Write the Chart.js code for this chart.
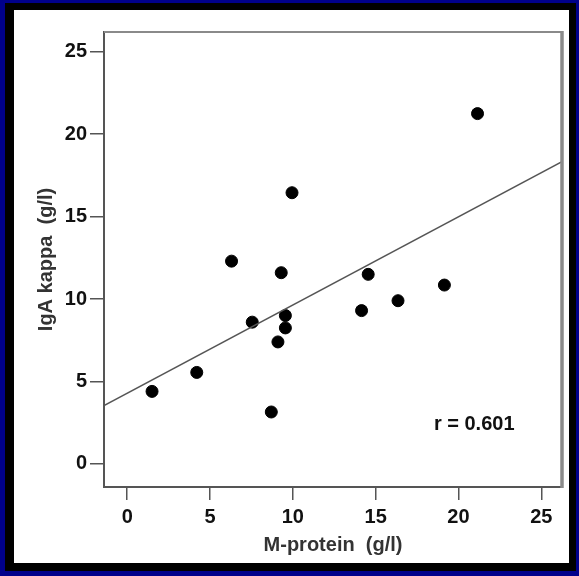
<!DOCTYPE html>
<html>
<head>
<meta charset="utf-8">
<script src="https://cdn.jsdelivr.net/npm/chart.js@4"></script>
<style>
    html, body { margin: 0; padding: 0; }
    body { width: 579px; height: 576px; background: #00008b; position: relative; overflow: hidden; }
    .frame { position: absolute; left: 5px; top: 3px; width: 571px; height: 568px; background: #000; }
    .panel { position: absolute; left: 14px; top: 10px; width: 555px; height: 553px; background: #fff; }
</style>
</head>
<body>
<div class="frame"></div>
<div class="panel"><canvas id="myChart" width="555" height="553"></canvas></div>
<script>
// M-protein (g/l) vs IgA kappa (g/l)
const mProtein = [1.5, 4.2, 6.3, 7.55, 8.7, 9.1, 9.3, 9.55, 9.55, 9.95, 14.15, 14.55, 16.35, 19.15, 21.15];
const igaKappa = [4.4, 5.55, 12.3, 8.6, 3.15, 7.4, 11.6, 9.0, 8.25, 16.45, 9.3, 11.5, 9.9, 10.85, 21.25];

// fitted line, read at the plot edges
const fitX = [-1.4, 26.25];
const fitY = [3.54, 18.33];

const xRange = [-1.4, 26.25];
const yRange = [-1.4, 26.2];
const tickStep = 5;

const rLabel = 'r = 0.601';
const rPos = [20.95, 2.4];

const font = { family: "'Liberation Sans', Arial, sans-serif", size: 20, weight: 'bold' };

let points = mProtein.map((x, i) => ({ x: x, y: igaKappa[i] }));
let fit = fitX.map((x, i) => ({ x: x, y: fitY[i] }));

// top/right frame lines and r value
const extras = {
    id: 'extras',
    afterDraw(chart) {
        const { ctx, chartArea: a, scales } = chart;
        ctx.save();
        ctx.strokeStyle = '#8a8a8a';
        ctx.lineWidth = 2;
        ctx.beginPath();
        ctx.moveTo(a.left, a.top);
        ctx.lineTo(a.right, a.top);
        ctx.stroke();
        ctx.lineWidth = 3.5;
        ctx.beginPath();
        ctx.moveTo(a.right, a.top - 1);
        ctx.lineTo(a.right, a.bottom + 1);
        ctx.stroke();

        ctx.fillStyle = '#111';
        ctx.font = 'bold 20px "Liberation Sans", Arial, sans-serif';
        ctx.textAlign = 'center';
        ctx.textBaseline = 'middle';
        ctx.fillText(rLabel, scales.x.getPixelForValue(rPos[0]), scales.y.getPixelForValue(rPos[1]));
        ctx.restore();
    }
};

new Chart(document.getElementById('myChart'), {
    type: 'scatter',
    data: {
        datasets: [{
            type: 'line',
            data: fit,
            borderColor: '#555',
            borderWidth: 1.5,
            pointRadius: 0,
            fill: false
        }, {
            data: points,
            backgroundColor: '#000',
            borderColor: '#000',
            pointRadius: 6,
            pointHoverRadius: 6
        }]
    },
    options: {
        responsive: false,
        animation: false,
        devicePixelRatio: 1,
        layout: { padding: { left: 0, right: 6, top: 22, bottom: 0 } },
        plugins: {
            legend: { display: false },
            tooltip: { enabled: false }
        },
        scales: {
            x: {
                type: 'linear',
                min: xRange[0],
                max: xRange[1],
                afterFit: (scale) => { scale.height = 76; },
                border: { color: '#555', width: 2 },
                grid: { drawOnChartArea: false, tickLength: 13, tickColor: '#555', lineWidth: 1.5 },
                ticks: { stepSize: tickStep, includeBounds: false, color: '#111', font: font, padding: 5, maxRotation: 0 },
                title: { display: true, text: 'M-protein  (g/l)', color: '#333', font: font, padding: { top: 0, bottom: 6 } }
            },
            y: {
                type: 'linear',
                min: yRange[0],
                max: yRange[1],
                afterFit: (scale) => { scale.width = 90; },
                border: { color: '#555', width: 2 },
                grid: { drawOnChartArea: false, tickLength: 14, tickColor: '#555', lineWidth: 1.5 },
                ticks: { stepSize: tickStep, includeBounds: false, color: '#111', font: font, padding: 3 },
                title: { display: true, text: 'IgA kappa  (g/l)', color: '#333', font: font, padding: { top: 20, bottom: 0 } }
            }
        }
    },
    plugins: [extras]
});
</script>
</body>
</html>
